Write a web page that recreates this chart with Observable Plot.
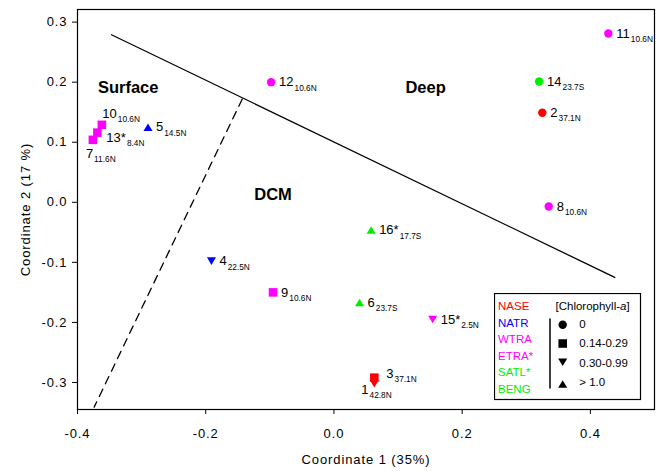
<!DOCTYPE html>
<html><head><meta charset="utf-8">
<script src="https://cdn.jsdelivr.net/npm/d3@7"></script>
<script src="https://cdn.jsdelivr.net/npm/@observablehq/plot@0.6"></script>
<style>
html,body{margin:0;padding:0;background:#fff;}
#chart{position:relative;width:661px;height:471px;font-family:"Liberation Sans",Arial,sans-serif;}
#legend{position:absolute;left:494px;top:293px;}
</style></head><body><div id="chart"></div>
<script>
// ---- data ----
const ids = ["1","2","3","4","5","6","7","8","9","10","11","12","13*","14","15*","16*"];
const lats = ["42.8N","37.1N","37.1N","22.5N","14.5N","23.7S","11.6N","10.6N","10.6N","10.6N","10.6N","10.6N","8.4N","23.7S","2.5N","17.7S"];
const coord1 = [0.063,0.325,0.063,-0.191,-0.290,0.040,-0.376,0.335,-0.095,-0.362,0.428,-0.098,-0.369,0.320,0.154,0.058];
const coord2 = [-0.302,0.149,-0.292,-0.098,0.125,-0.167,0.104,-0.007,-0.150,0.129,0.281,0.200,0.116,0.201,-0.195,-0.046];
const provinceOf = ["NASE","NASE","NASE","NATR","NATR","BENG","WTRA","WTRA","WTRA","WTRA","WTRA","WTRA","ETRA*","BENG","ETRA*","SATL*"];
const chlOf = ["0.30-0.99","0","0.14-0.29","0.30-0.99","> 1.0","> 1.0","0.14-0.29","0","0.14-0.29","0.14-0.29","0","0","0.14-0.29","0","0.30-0.99","> 1.0"];
const provinces = ["NASE","NATR","WTRA","ETRA*","SATL*","BENG"];
const provinceColors = ["#ff0000","#0000ff","#ff00ff","#ff00ff","#00ee00","#00ee00"];
const chlClasses = ["0","0.14-0.29","0.30-0.99","> 1.0"];
const xTicks = [-0.4,-0.2,0,0.2,0.4];
const yTicks = [-0.3,-0.2,-0.1,0,0.1,0.2,0.3];
const regionNames = ["Surface","Deep","DCM"];
const regionX = [-0.321,0.143,-0.095];
const regionY = [0.191,0.191,0.0125];
const solidX = [-0.347,0.438], solidY = [0.279,-0.125];
const dashX = [-0.143,-0.374], dashY = [0.172,-0.341];

// ---- layout constants ----
const labelShift = {"10":[0.5,-11],"7":[-7,13.5],"3":[12,-4],"1":[-13,6],"13*":[9,5]};
const defaultShift = [8,0];

// ---- symbols ----
const rad = s => Math.sqrt(s/Math.PI);
const symCircle = {draw(c,s){const r=rad(s); c.moveTo(r,0); c.arc(0,0,r,0,2*Math.PI); c.closePath();}};
const symSquare = {draw(c,s){const h=rad(s)*1.02; c.rect(-h,-h,2*h,2*h);}};
const symTriDown = {draw(c,s){const r=rad(s), w=r*1.08, h=r*0.9; c.moveTo(-w,-h); c.lineTo(w,-h); c.lineTo(0,h); c.closePath();}};
const symTriUp = {draw(c,s){const r=rad(s), w=r*1.08, h=r*0.9; c.moveTo(0,-h); c.lineTo(w,h); c.lineTo(-w,h); c.closePath();}};
const chlSymbols = [symCircle, symSquare, symTriDown, symTriUp];

const pts = ids.map((id,i) => ({id, lat: lats[i], x: coord1[i], y: coord2[i],
  color: provinceColors[provinces.indexOf(provinceOf[i])], chl: chlOf[i]}));
const regions = regionNames.map((n,i)=>({n, x: regionX[i], y: regionY[i]}));
const solid = solidX.map((x,i)=>({x, y: solidY[i]}));
const dashed = dashX.map((x,i)=>({x, y: dashY[i]}));
const fmt = d => (Math.abs(d) < 1e-9 ? 0 : d).toFixed(1);

const plot = Plot.plot({
  width: 661, height: 471,
  marginLeft: 77, marginRight: 7, marginTop: 9, marginBottom: 62,
  style: {fontFamily: '"Liberation Sans", Arial, sans-serif', fontSize: "12.5px", background: "white", color: "black"},
  x: {domain: [-0.4, 0.5]},
  y: {domain: [-0.345, 0.321]},
  color: {type: "identity"},
  marks: [
    Plot.axisX({ticks: xTicks, tickFormat: fmt, tickSize: 5, tickPadding: 14, fontSize: 13,
      label: "Coordinate 1 (35%)", labelAnchor: "center", labelArrow: "none", labelOffset: 54}),
    Plot.axisY({ticks: yTicks, tickFormat: fmt, tickSize: 5, tickPadding: 5, fontSize: 13,
      label: "Coordinate 2 (17 %)", labelAnchor: "center", labelArrow: "none", labelOffset: 57}),
    Plot.frame({stroke: "black", strokeWidth: 1.2}),
    Plot.line(solid, {x: "x", y: "y", stroke: "black", strokeWidth: 1.3}),
    Plot.line(dashed, {x: "x", y: "y", stroke: "black", strokeWidth: 1.3, strokeDasharray: "8,6"}),
    Plot.text(regions, {x: "x", y: "y", text: "n", fontWeight: "bold", fontSize: 16.5}),
    ...chlClasses.map((c,k) => Plot.dot(pts.filter(p => p.chl === c),
      {x: "x", y: "y", fill: "color", r: 4.2, symbol: chlSymbols[k], stroke: "none"})),
    ...pts.map(p => {
      const [dx, dy] = labelShift[p.id] || defaultShift;
      return Plot.text([p], {x: "x", y: "y", text: d => d.id + "|" + d.lat, dx, dy,
        textAnchor: "start", fontSize: 13, fill: "black"});
    })
  ]
});

// axis text is slightly wider-set in the reference
plot.querySelectorAll('g[aria-label$="axis tick label"], g[aria-label$="axis label"]').forEach(g => {
  g.style.letterSpacing = "0.9px";
});

// subscripts
plot.querySelectorAll("text").forEach(t => {
  if (t.childElementCount === 0 && t.textContent.includes("|")) {
    const [a, b] = t.textContent.split("|");
    t.textContent = "";
    const ns = "http://www.w3.org/2000/svg";
    const t1 = document.createElementNS(ns, "tspan"); t1.textContent = a;
    const t2 = document.createElementNS(ns, "tspan");
    t2.setAttribute("dy", "4.5"); t2.setAttribute("dx", "1"); t2.setAttribute("font-size", "8.3");
    t2.textContent = b;
    t.appendChild(t1); t.appendChild(t2);
  }
});
document.getElementById("chart").appendChild(plot);

// ---- legend overlay ----
const lg = d3.select("#chart").append("svg").attr("id","legend").attr("width",148).attr("height",108)
  .style("font-family",'"Liberation Sans", Arial, sans-serif').style("font-size","11.5px");
lg.append("rect").attr("x",0.5).attr("y",0.5).attr("width",146).attr("height",106)
  .attr("fill","white").attr("stroke","black").attr("stroke-width",1.2);
provinces.forEach((p,i) => {
  lg.append("text").attr("x",4).attr("y",13 + i*16.6).attr("dy","0.35em")
    .attr("fill", provinceColors[i]).text(p);
});
const hd = lg.append("text").attr("x",61.5).attr("y",13).attr("dy","0.35em");
hd.append("tspan").text("[Chlorophyll-");
hd.append("tspan").attr("font-style","italic").text("a");
hd.append("tspan").text("]");
lg.append("line").attr("x1",56).attr("x2",56).attr("y1",25.5).attr("y2",95.5)
  .attr("stroke","black").attr("stroke-width",1.5);
const symY = [31.8, 50.5, 69.2, 91];
const labY = [31.3, 50.3, 69.7, 89.3];
chlClasses.forEach((c,k) => {
  const path = d3.path();
  chlSymbols[k].draw(path, Math.PI*4.2*4.2);
  lg.append("path").attr("d", path.toString()).attr("transform",`translate(68.7,${symY[k]})`).attr("fill","black");
  lg.append("text").attr("x",85.3).attr("y",labY[k]).attr("dy","0.35em").text(c);
});
</script></body></html>
